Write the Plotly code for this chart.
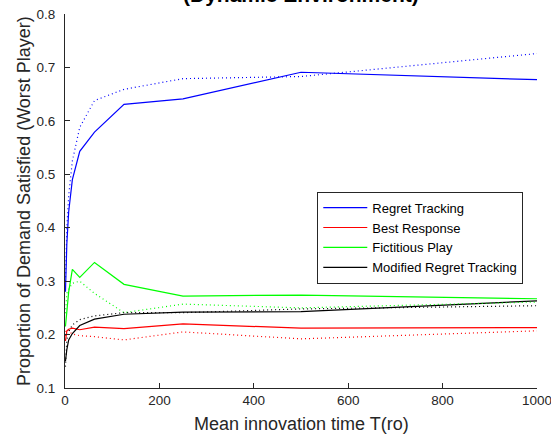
import plotly.graph_objects as go

# Mean innovation time T(ro)
T = [0.977, 1.95, 3.9, 7.8, 15.6, 31.25, 62.5, 125, 250, 500, 1000]

# solid lines (legend series)
regret_tracking = [0.280, 0.310, 0.370, 0.430, 0.490, 0.543, 0.579, 0.631, 0.641, 0.691, 0.677]
best_response = [0.188, 0.200, 0.207, 0.210, 0.212, 0.209, 0.214, 0.211, 0.220, 0.212, 0.213]
fictitious_play = [0.215, 0.225, 0.250, 0.280, 0.322, 0.307, 0.335, 0.294, 0.272, 0.274, 0.267]
modified_regret = [0.150, 0.160, 0.172, 0.190, 0.202, 0.217, 0.229, 0.238, 0.242, 0.243, 0.263]

# dotted companion lines
regret_tracking_dot = [0.300, 0.350, 0.400, 0.460, 0.525, 0.588, 0.638, 0.659, 0.679, 0.683, 0.726]
best_response_dot = [0.190, 0.205, 0.210, 0.206, 0.201, 0.198, 0.196, 0.190, 0.205, 0.192, 0.207]
fictitious_play_dot = [0.240, 0.265, 0.277, 0.285, 0.296, 0.300, 0.277, 0.241, 0.257, 0.250, 0.261]
modified_regret_dot = [0.140, 0.170, 0.190, 0.205, 0.218, 0.228, 0.235, 0.241, 0.241, 0.248, 0.254]

names = ["Regret Tracking", "Best Response", "Fictitious Play", "Modified Regret Tracking"]
colors = ["#0000ff", "#ff0000", "#00ff00", "#000000"]
solid = [regret_tracking, best_response, fictitious_play, modified_regret]
dotted = [regret_tracking_dot, best_response_dot, fictitious_play_dot, modified_regret_dot]

x_ticks = [0, 200, 400, 600, 800, 1000]
y_ticks = [0.1, 0.2, 0.3, 0.4, 0.5, 0.6, 0.7, 0.8]

FONT = "Liberation Sans, Arial, sans-serif"
AX = "#262626"

fig = go.Figure()
for nm, c, ys in zip(names, colors, solid):
    fig.add_trace(go.Scatter(x=T, y=ys, mode="lines", name=nm,
                             line=dict(color=c, width=1.2)))
for nm, c, ys in zip(names, colors, dotted):
    fig.add_trace(go.Scatter(x=T, y=ys, mode="lines", name=nm + " (dotted)",
                             showlegend=False,
                             line=dict(color=c, width=1.2, dash="1px,3px")))

fig.update_layout(
    width=551, height=441,
    margin=dict(l=65, r=14, t=14, b=53, autoexpand=False),
    paper_bgcolor="white", plot_bgcolor="white",
    font=dict(family=FONT, size=13.5, color=AX),
    showlegend=True,
    legend=dict(x=0.5345, y=0.525, xanchor="left", yanchor="top",
                bordercolor=AX, borderwidth=1, bgcolor="white",
                font=dict(family=FONT, size=13, color="#000000"),
                itemwidth=44, tracegroupgap=0),
    xaxis=dict(range=[0, 1000], tickvals=x_ticks, ticktext=[str(v) for v in x_ticks],
               showline=True, linecolor=AX, linewidth=1, ticks="inside",
               ticklen=5, tickcolor=AX, showgrid=False, zeroline=False,
               ticklabeloverflow="allow", automargin=False,
               tickfont=dict(size=13.5, color=AX)),
    yaxis=dict(range=[0.1, 0.8], tickvals=y_ticks, ticktext=[f"{v:.1f}" for v in y_ticks],
               showline=True, linecolor=AX, linewidth=1, ticks="inside",
               ticklen=5, tickcolor=AX, showgrid=False, zeroline=False,
               ticklabelstandoff=6, automargin=False,
               tickfont=dict(size=13.5, color=AX)),
    annotations=[
        dict(text="Mean innovation time T(ro)", xref="paper", yref="paper",
             x=0.5, y=0, xanchor="center", yanchor="middle", yshift=-36,
             showarrow=False, font=dict(family=FONT, size=18, color=AX)),
        dict(text="Proportion of Demand Satisfied (Worst Player)", xref="paper", yref="paper",
             x=0, y=0.5, xanchor="center", yanchor="middle", xshift=-41, textangle=-90,
             showarrow=False, font=dict(family=FONT, size=18, color=AX)),
        dict(text="<b>(Dynamic Environment)</b>", xref="paper", yref="paper",
             x=0.5, y=1, xanchor="center", yanchor="middle", yshift=20,
             showarrow=False, font=dict(family=FONT, size=21, color="#000000")),
    ],
)

fig.write_html("out.html")
